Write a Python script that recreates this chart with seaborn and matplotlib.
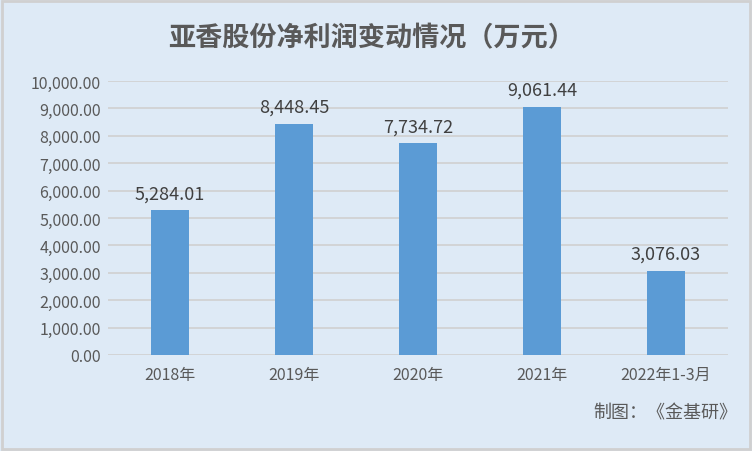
import matplotlib
matplotlib.use('Agg')
import matplotlib.pyplot as plt
import matplotlib.ticker as mticker
from matplotlib.patches import Rectangle
import seaborn as sns
import pandas as pd

# data
periods = ['2018年', '2019年', '2020年', '2021年', '2022年1-3月']
profit = [5284.01, 8448.45, 7734.72, 9061.44, 3076.03]
title = '亚香股份净利润变动情况（万元）'
source = '制图：《金基研》'

df = pd.DataFrame({'period': periods, 'profit': profit})

sns.set_theme(style='white')
plt.rcParams['font.family'] = ['Noto Sans CJK SC', 'DejaVu Sans']

bg = '#DEEAF6'
fig = plt.figure(figsize=(7.52, 4.52), dpi=100, facecolor=bg)
ax = fig.add_axes([0.1436, 0.2124, 0.8245, 0.6062])
ax.set_facecolor(bg)

sns.barplot(data=df, x='period', y='profit', color='#5B9BD5', width=0.31,
            saturation=1, linewidth=0, ax=ax, zorder=3)

ax.set_ylim(0, 10000)
ax.set_xlim(-0.5, len(periods) - 0.5)
ax.yaxis.set_major_locator(mticker.MultipleLocator(1000))
ax.yaxis.set_major_formatter(mticker.FuncFormatter(lambda v, p: f'{v:,.2f}'))
ax.grid(axis='y', color='#D0D0D0', linewidth=1.2, zorder=0)
ax.set_axisbelow(True)
for s in ax.spines.values():
    s.set_visible(False)
ax.tick_params(axis='both', length=0, labelsize=11.5, colors='#595959')
ax.tick_params(axis='x', pad=8)
ax.tick_params(axis='y', pad=5)
ax.set_xlabel('')
ax.set_ylabel('')

# value labels above bars
for i, v in enumerate(profit):
    ax.text(i, v + 280, f'{v:,.2f}', ha='center', va='bottom', fontsize=13, color='#404040')

fig.text(0.494, 0.916, title, ha='center', va='center', fontsize=19.5, fontweight='bold',
         color='#595959')
fig.text(0.98, 0.086, source, ha='right', va='center', fontsize=13, color='#595959')

# thin frame around the chart
fig.patches.append(Rectangle((0.003, 0.004), 0.994, 0.992, transform=fig.transFigure,
                             fill=False, edgecolor='#D0D0D0', linewidth=2))

fig.savefig('out.png', dpi=100, facecolor=bg)
